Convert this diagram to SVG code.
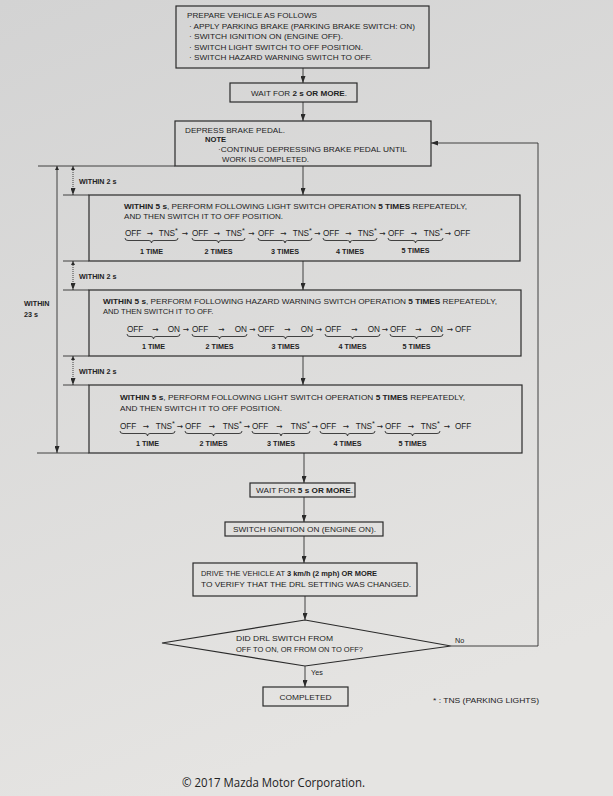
<svg xmlns="http://www.w3.org/2000/svg" width="613" height="796" viewBox="0 0 613 796">
<defs>
<linearGradient id="bg" x1="0" y1="0" x2="0.3" y2="1">
<stop offset="0" stop-color="#d3d3d3"/>
<stop offset="1" stop-color="#e5e4e2"/>
</linearGradient>
<marker id="ah" markerUnits="userSpaceOnUse" markerWidth="7" markerHeight="5" refX="7" refY="2.5" orient="auto">
<path d="M0,0 L7,2.5 L0,5 z" fill="#2a2a2a"/>
</marker>
<marker id="as" markerUnits="userSpaceOnUse" markerWidth="4" markerHeight="4" refX="0" refY="2" orient="auto">
<path d="M4,0 L0,2 L4,4 z" fill="#2a2a2a"/>
</marker>
</defs>
<style>
.t{font-family:"Liberation Sans","DejaVu Sans",sans-serif;font-size:7.6px;fill:#222}
.s{font-size:7.2px}
.q{font-size:8.2px}
.ar{font-family:"DejaVu Sans",sans-serif;font-size:7.5px;fill:#222;text-anchor:middle}
.b{font-weight:bold}
.e{text-anchor:end}
.m{text-anchor:middle}
.box{fill:none;stroke:#2a2a2a;stroke-width:1.2}
.ln{fill:none;stroke:#2f2f2f;stroke-width:0.9}
.dot{fill:none;stroke:#2f2f2f;stroke-width:0.9;stroke-dasharray:1 1}
.br{fill:none;stroke:#2f2f2f;stroke-width:0.9}
.cp{font-family:"Open Sans","Liberation Sans",sans-serif;font-size:12.5px;fill:#222}
</style>
<rect x="0" y="0" width="613" height="796" fill="url(#bg)"/>

<g id="connectors">
<line class="ln" x1="303" y1="68" x2="303" y2="83" marker-end="url(#ah)"/>
<line class="ln" x1="303" y1="102" x2="303" y2="121" marker-end="url(#ah)"/>
<line class="ln" x1="303" y1="166" x2="303" y2="195" marker-end="url(#ah)"/>
<line class="ln" x1="303" y1="261" x2="303" y2="290" marker-end="url(#ah)"/>
<line class="ln" x1="303" y1="356" x2="303" y2="385" marker-end="url(#ah)"/>
<line class="ln" x1="304" y1="453" x2="304" y2="483" marker-end="url(#ah)"/>
<line class="ln" x1="304" y1="497" x2="304" y2="522" marker-end="url(#ah)"/>
<line class="ln" x1="304" y1="536" x2="304" y2="563" marker-end="url(#ah)"/>
<line class="ln" x1="305" y1="596" x2="305" y2="620" marker-end="url(#ah)"/>
<line class="ln" x1="305" y1="666" x2="305" y2="687" marker-end="url(#ah)"/>
<polyline class="ln" points="451,646 538,646 538,143 431,143" marker-end="url(#ah)"/>
<text class="t s" x="455" y="643">No</text>
<text class="t s" x="311" y="675">Yes</text>
<line class="ln" x1="38" y1="166" x2="175" y2="166"/>
<line class="ln" x1="37" y1="453" x2="89" y2="453"/>
<line class="ln" x1="57" y1="166" x2="57" y2="453" marker-start="url(#as)" marker-end="url(#ah)"/>
<line class="ln" x1="63" y1="195" x2="89" y2="195"/>
<line class="ln" x1="63" y1="261" x2="89" y2="261"/>
<line class="ln" x1="63" y1="290" x2="89" y2="290"/>
<line class="ln" x1="63" y1="356" x2="89" y2="356"/>
<line class="ln" x1="63" y1="385" x2="89" y2="385"/>
<line class="dot" x1="73" y1="166" x2="73" y2="195" marker-start="url(#as)" marker-end="url(#ah)"/>
<line class="dot" x1="73" y1="261" x2="73" y2="290" marker-start="url(#as)" marker-end="url(#ah)"/>
<line class="dot" x1="73" y1="356" x2="73" y2="385" marker-start="url(#as)" marker-end="url(#ah)"/>
<text class="t b s" x="79" y="184">WITHIN 2 s</text>
<text class="t b s" x="79" y="279">WITHIN 2 s</text>
<text class="t b s" x="79" y="374">WITHIN 2 s</text>
<text class="t b s" x="24" y="306">WITHIN</text>
<text class="t b s" x="24" y="317">23 s</text>
</g>

<g id="prepare">
<rect class="box" x="176" y="6" width="253" height="62"/>
<text class="t" x="187" y="18" textLength="130" lengthAdjust="spacingAndGlyphs">PREPARE VEHICLE AS FOLLOWS</text>
<text class="t" x="189" y="28.5" textLength="226" lengthAdjust="spacingAndGlyphs">· APPLY PARKING BRAKE (PARKING BRAKE SWITCH: ON)</text>
<text class="t" x="189" y="39" textLength="154" lengthAdjust="spacingAndGlyphs">· SWITCH IGNITION ON (ENGINE OFF).</text>
<text class="t" x="189" y="49.5" textLength="174" lengthAdjust="spacingAndGlyphs">· SWITCH LIGHT SWITCH TO OFF POSITION.</text>
<text class="t" x="189" y="60" textLength="183" lengthAdjust="spacingAndGlyphs">· SWITCH HAZARD WARNING SWITCH TO OFF.</text>
</g>

<g id="wait2">
<rect class="box" x="230" y="83" width="127" height="19"/>
<text class="t" x="251" y="96" textLength="96" lengthAdjust="spacingAndGlyphs">WAIT FOR <tspan class="b">2 s OR MORE</tspan>.</text>
</g>

<g id="depress">
<rect class="box" x="175" y="121" width="256" height="45"/>
<text class="t" x="185" y="133" textLength="100" lengthAdjust="spacingAndGlyphs">DEPRESS BRAKE PEDAL.</text>
<text class="t b" x="205" y="142">NOTE</text>
<text class="t" x="218" y="152" textLength="189" lengthAdjust="spacingAndGlyphs">·CONTINUE DEPRESSING BRAKE PEDAL UNTIL</text>
<text class="t" x="222" y="162" textLength="87" lengthAdjust="spacingAndGlyphs">WORK IS COMPLETED.</text>
</g>

<g id="light1">
<rect class="box" x="89" y="195" width="431" height="66"/>
<text class="t" x="124" y="209" textLength="343" lengthAdjust="spacingAndGlyphs"><tspan class="b">WITHIN 5 s</tspan>, PERFORM FOLLOWING LIGHT SWITCH OPERATION <tspan class="b">5 TIMES</tspan> REPEATEDLY,</text>
<text class="t" x="124" y="219" textLength="159" lengthAdjust="spacingAndGlyphs">AND THEN SWITCH IT TO OFF POSITION.</text>
<text class="t q" x="125" y="236">OFF</text><text class="ar" x="150" y="236">→</text><text class="t q e" x="175" y="236">TNS</text><text class="t s" x="175" y="233">*</text>
<text class="t q" x="192" y="236">OFF</text><text class="ar" x="217" y="236">→</text><text class="t q e" x="242" y="236">TNS</text><text class="t s" x="242" y="233">*</text>
<text class="t q" x="258" y="236">OFF</text><text class="ar" x="283.5" y="236">→</text><text class="t q e" x="309" y="236">TNS</text><text class="t s" x="309" y="233">*</text>
<text class="t q" x="323" y="236">OFF</text><text class="ar" x="348.5" y="236">→</text><text class="t q e" x="374" y="236">TNS</text><text class="t s" x="374" y="233">*</text>
<text class="t q" x="388" y="236">OFF</text><text class="ar" x="414" y="236">→</text><text class="t q e" x="440" y="236">TNS</text><text class="t s" x="440" y="233">*</text>
<text class="ar" x="185" y="236">→</text>
<text class="ar" x="251.5" y="236">→</text>
<text class="ar" x="317.5" y="236">→</text>
<text class="ar" x="382.5" y="236">→</text>
<text class="ar" x="448" y="236">→</text>
<text class="t q" x="454" y="236">OFF</text>
<path class="br" d="M125,238 q0,2.5 3,2.5 H149 q2.5,0 2.5,2.5 q0,-2.5 2.5,-2.5 H175 q3,0 3,-2.5"/>
<path class="br" d="M192,238 q0,2.5 3,2.5 H216 q2.5,0 2.5,2.5 q0,-2.5 2.5,-2.5 H242 q3,0 3,-2.5"/>
<path class="br" d="M258,238 q0,2.5 3,2.5 H282.5 q2.5,0 2.5,2.5 q0,-2.5 2.5,-2.5 H309 q3,0 3,-2.5"/>
<path class="br" d="M323,238 q0,2.5 3,2.5 H347.5 q2.5,0 2.5,2.5 q0,-2.5 2.5,-2.5 H374 q3,0 3,-2.5"/>
<path class="br" d="M388,238 q0,2.5 3,2.5 H413 q2.5,0 2.5,2.5 q0,-2.5 2.5,-2.5 H440 q3,0 3,-2.5"/>
<text class="t b s m" x="151.5" y="254">1 TIME</text>
<text class="t b s m" x="218.5" y="254">2 TIMES</text>
<text class="t b s m" x="285" y="254">3 TIMES</text>
<text class="t b s m" x="350" y="254">4 TIMES</text>
<text class="t b s m" x="415.5" y="253">5 TIMES</text>
</g>

<g id="hazard">
<rect class="box" x="89" y="290" width="432" height="66"/>
<text class="t" x="103" y="304" textLength="394" lengthAdjust="spacingAndGlyphs"><tspan class="b">WITHIN 5 s</tspan>, PERFORM FOLLOWING HAZARD WARNING SWITCH OPERATION <tspan class="b">5 TIMES</tspan> REPEATEDLY,</text>
<text class="t" x="103" y="314">AND THEN SWITCH IT TO OFF.</text>
<text class="t q" x="127" y="332">OFF</text><text class="ar" x="155.5" y="332">→</text><text class="t q e" x="180" y="332">ON</text>
<text class="t q" x="192" y="332">OFF</text><text class="ar" x="221.5" y="332">→</text><text class="t q e" x="247" y="332">ON</text>
<text class="t q" x="258" y="332">OFF</text><text class="ar" x="287.5" y="332">→</text><text class="t q e" x="313" y="332">ON</text>
<text class="t q" x="325" y="332">OFF</text><text class="ar" x="354.5" y="332">→</text><text class="t q e" x="380" y="332">ON</text>
<text class="t q" x="390" y="332">OFF</text><text class="ar" x="418.5" y="332">→</text><text class="t q e" x="443" y="332">ON</text>
<text class="ar" x="186" y="332">→</text>
<text class="ar" x="252.5" y="332">→</text>
<text class="ar" x="319" y="332">→</text>
<text class="ar" x="385" y="332">→</text>
<text class="ar" x="450" y="332">→</text>
<text class="t q" x="455" y="332">OFF</text>
<path class="br" d="M127,334 q0,2.5 3,2.5 H151 q2.5,0 2.5,2.5 q0,-2.5 2.5,-2.5 H177 q3,0 3,-2.5"/>
<path class="br" d="M192,334 q0,2.5 3,2.5 H217 q2.5,0 2.5,2.5 q0,-2.5 2.5,-2.5 H244 q3,0 3,-2.5"/>
<path class="br" d="M258,334 q0,2.5 3,2.5 H283 q2.5,0 2.5,2.5 q0,-2.5 2.5,-2.5 H310 q3,0 3,-2.5"/>
<path class="br" d="M325,334 q0,2.5 3,2.5 H350 q2.5,0 2.5,2.5 q0,-2.5 2.5,-2.5 H377 q3,0 3,-2.5"/>
<path class="br" d="M390,334 q0,2.5 3,2.5 H414 q2.5,0 2.5,2.5 q0,-2.5 2.5,-2.5 H440 q3,0 3,-2.5"/>
<text class="t b s m" x="153.5" y="349">1 TIME</text>
<text class="t b s m" x="219.5" y="349">2 TIMES</text>
<text class="t b s m" x="285.5" y="349">3 TIMES</text>
<text class="t b s m" x="352.5" y="349">4 TIMES</text>
<text class="t b s m" x="416.5" y="349">5 TIMES</text>
</g>

<g id="light2">
<rect class="box" x="89" y="385" width="433" height="68"/>
<text class="t" x="120" y="400" textLength="345" lengthAdjust="spacingAndGlyphs"><tspan class="b">WITHIN 5 s</tspan>, PERFORM FOLLOWING LIGHT SWITCH OPERATION <tspan class="b">5 TIMES</tspan> REPEATEDLY,</text>
<text class="t" x="120" y="411" textLength="162" lengthAdjust="spacingAndGlyphs">AND THEN SWITCH IT TO OFF POSITION.</text>
<text class="t q" x="120" y="429">OFF</text><text class="ar" x="146" y="429">→</text><text class="t q e" x="172" y="429">TNS</text><text class="t s" x="172" y="426">*</text>
<text class="t q" x="185" y="429">OFF</text><text class="ar" x="212" y="429">→</text><text class="t q e" x="239" y="429">TNS</text><text class="t s" x="239" y="426">*</text>
<text class="t q" x="252" y="429">OFF</text><text class="ar" x="279.5" y="429">→</text><text class="t q e" x="307" y="429">TNS</text><text class="t s" x="307" y="426">*</text>
<text class="t q" x="320" y="429">OFF</text><text class="ar" x="346" y="429">→</text><text class="t q e" x="372" y="429">TNS</text><text class="t s" x="372" y="426">*</text>
<text class="t q" x="385" y="429">OFF</text><text class="ar" x="411" y="429">→</text><text class="t q e" x="437" y="429">TNS</text><text class="t s" x="437" y="426">*</text>
<text class="ar" x="180" y="429">→</text>
<text class="ar" x="247" y="429">→</text>
<text class="ar" x="315" y="429">→</text>
<text class="ar" x="380" y="429">→</text>
<text class="ar" x="447" y="429">→</text>
<text class="t q" x="455" y="429">OFF</text>
<path class="br" d="M120,431 q0,2.5 3,2.5 H145 q2.5,0 2.5,2.5 q0,-2.5 2.5,-2.5 H172 q3,0 3,-2.5"/>
<path class="br" d="M185,431 q0,2.5 3,2.5 H211 q2.5,0 2.5,2.5 q0,-2.5 2.5,-2.5 H239 q3,0 3,-2.5"/>
<path class="br" d="M252,431 q0,2.5 3,2.5 H278.5 q2.5,0 2.5,2.5 q0,-2.5 2.5,-2.5 H307 q3,0 3,-2.5"/>
<path class="br" d="M320,431 q0,2.5 3,2.5 H345 q2.5,0 2.5,2.5 q0,-2.5 2.5,-2.5 H372 q3,0 3,-2.5"/>
<path class="br" d="M385,431 q0,2.5 3,2.5 H410 q2.5,0 2.5,2.5 q0,-2.5 2.5,-2.5 H437 q3,0 3,-2.5"/>
<text class="t b s m" x="147.5" y="446">1 TIME</text>
<text class="t b s m" x="213.5" y="446">2 TIMES</text>
<text class="t b s m" x="281" y="446">3 TIMES</text>
<text class="t b s m" x="347.5" y="446">4 TIMES</text>
<text class="t b s m" x="412.5" y="446">5 TIMES</text>
</g>

<g id="wait5">
<rect class="box" x="250" y="483" width="105" height="14"/>
<text class="t" x="256" y="493" textLength="97" lengthAdjust="spacingAndGlyphs">WAIT FOR <tspan class="b">5 s OR MORE</tspan>.</text>
</g>

<g id="ignition">
<rect class="box" x="225" y="522" width="158" height="14"/>
<text class="t" x="233" y="532" textLength="143" lengthAdjust="spacingAndGlyphs">SWITCH IGNITION ON (ENGINE ON).</text>
</g>

<g id="drive">
<rect class="box" x="193" y="563" width="224" height="33"/>
<text class="t" x="201" y="576" textLength="176" lengthAdjust="spacingAndGlyphs">DRIVE THE VEHICLE AT <tspan class="b">3 km/h (2 mph) OR MORE</tspan></text>
<text class="t" x="201" y="587" textLength="210" lengthAdjust="spacingAndGlyphs">TO VERIFY THAT THE DRL SETTING WAS CHANGED.</text>
</g>

<g id="decision">
<polygon class="box" points="305,620 451,646 305,666 162,643"/>
<text class="t" x="236" y="641" textLength="97" lengthAdjust="spacingAndGlyphs">DID DRL SWITCH FROM</text>
<text class="t" x="236" y="652" textLength="127" lengthAdjust="spacingAndGlyphs">OFF TO ON, OR FROM ON TO OFF?</text>
</g>

<g id="completed">
<rect class="box" x="263" y="687" width="85" height="19"/>
<text class="t m" x="305.5" y="700" textLength="52" lengthAdjust="spacingAndGlyphs">COMPLETED</text>
</g>

<text class="t" x="433" y="703" textLength="106" lengthAdjust="spacingAndGlyphs">* : TNS (PARKING LIGHTS)</text>
<text class="cp" x="182" y="787" textLength="183" lengthAdjust="spacingAndGlyphs">© 2017 Mazda Motor Corporation.</text>
</svg>
